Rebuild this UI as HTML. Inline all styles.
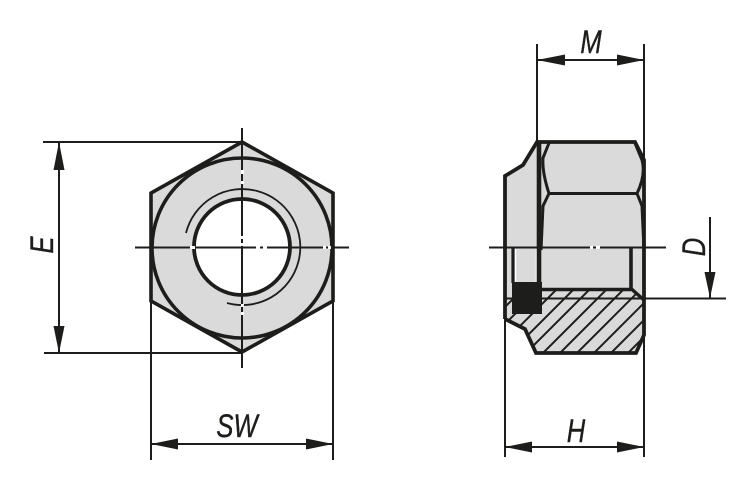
<!DOCTYPE html>
<html>
<head>
<meta charset="utf-8">
<style>
html,body{margin:0;padding:0;background:#fff;width:750px;height:486px;overflow:hidden}
svg{display:block}
text{font-family:"Liberation Sans",sans-serif;font-style:italic;fill:#1d1d1b;stroke:#1d1d1b;stroke-width:.4}
</style>
</head>
<body>
<svg width="750" height="486" viewBox="0 0 750 486" xmlns="http://www.w3.org/2000/svg">
<defs>
<clipPath id="hc"><polygon points="505,289 632,289 645,300 645,335 636,353 536,353 525,329 505,319"/></clipPath>
</defs>
<rect width="750" height="486" fill="#fff"/>

<!-- LEFT VIEW -->
<polygon points="242,142 333,193 333,301 242,352 151,301 151,193" fill="#dadada" stroke="#1d1d1b" stroke-width="3.6" stroke-linejoin="miter"/>
<circle cx="242" cy="248" r="90" fill="#dadada" stroke="#1d1d1b" stroke-width="3.6"/>
<circle cx="242" cy="247" r="48" fill="#fff" stroke="#1d1d1b" stroke-width="3.8"/>
<path d="M186,233 A58,58 0 1 1 227,303" fill="none" stroke="#1d1d1b" stroke-width="1.8"/>

<!-- centre lines left -->
<g stroke="#1d1d1b" stroke-width="2" fill="none">
<path d="M135,247.5H349"/>
<path d="M242,128V368"/>
</g>
<g fill="#fff">
<rect x="190" y="246" width="5" height="3"/>
<rect x="256" y="246" width="4" height="3"/>
<rect x="263" y="246" width="4" height="3"/>
<rect x="323" y="246" width="3" height="3"/>
<rect x="328" y="246" width="3" height="3"/>
<rect x="241" y="170" width="3" height="4"/>
<rect x="241" y="181" width="3" height="3"/>
<rect x="241" y="236" width="3" height="3"/>
<rect x="241" y="243" width="3" height="3"/>
<rect x="241" y="304" width="3" height="3"/>
<rect x="241" y="312" width="3" height="3"/>
</g>

<!-- dimensions -->
<g stroke="#1d1d1b" stroke-width="2" fill="none">
<path d="M43,142H242"/>
<path d="M44,353H242"/>
<path d="M59,142V353"/>
<path d="M151,301V460"/>
<path d="M333,301V460"/>
<path d="M151,444H333"/>
<path d="M537,44V142"/>
<path d="M644,44V160"/>
<path d="M537,60H644"/>
<path d="M505,319V457"/>
<path d="M644,335V457"/>
<path d="M505,447H644"/>
<path d="M710,217V298"/>
<path d="M644,298.5H726"/>
</g>
<g fill="#1d1d1b">
<polygon points="59,142 64.500,170 53.500,170"/>
<polygon points="59,353 64.500,326 53.500,326"/>
<polygon points="151,444 178,438.500 178,449.500"/>
<polygon points="333,444 306,438.500 306,449.500"/>
<polygon points="537,60 565,54.500 565,65.500"/>
<polygon points="644,60 617,54.500 617,65.500"/>
<polygon points="505,447 532,441.500 532,452.500"/>
<polygon points="644,447 617,441.500 617,452.500"/>
<polygon points="710,298 704.500,272 715.500,272"/>
</g>

<!-- RIGHT VIEW -->
<polygon points="505,176 523,165 537,142 635,142 644,160 645,300 645,335 636,353 536,353 525,329 505,319" fill="#dadada"/>
<g clip-path="url(#hc)" stroke="#1d1d1b" stroke-width="2" fill="none">
<path d="M530,282L480,332"/>
<path d="M547,282L497,332"/>
<path d="M564,282L484,362"/>
<path d="M581,282L501,362"/>
<path d="M597,282L517,362"/>
<path d="M614,282L534,362"/>
<path d="M631,282L551,362"/>
<path d="M648,282L568,362"/>
<path d="M665,282L585,362"/>
<path d="M682,282L602,362"/>
<path d="M699,282L619,362"/>
</g>
<path d="M515.500,249V282M536.500,249V282" stroke="#fff" stroke-width="1.500" fill="none"/>
<g fill="none" stroke="#1d1d1b" stroke-linejoin="miter">
<path d="M505,319V176L523,165L537,142H635L644,160V335L636,353H536L525,329L505,319" stroke-width="3.8"/>
<path d="M539,142V282" stroke-width="4.600"/>
<path d="M549,143L543,158Q542,172 549,193.500H637Q646,175 642,160L635,143" stroke-width="3"/>
<path d="M549,193.500L543,206L541,250" stroke-width="3"/>
<path d="M637,193.500L642,206L644,250" stroke-width="3"/>
<path d="M513,247V283" stroke-width="3.200"/>
<path d="M631,247V289" stroke-width="3.600"/>
<path d="M541,289.500H632L644,300" stroke-width="3.400"/>
</g>
<path d="M505,298.500H645" stroke="#1d1d1b" stroke-width="2"/>
<rect x="512" y="282" width="30" height="32" fill="#1d1d1b"/>
<path d="M489,247.500H666" stroke="#1d1d1b" stroke-width="2"/>
<g fill="#fff">
<rect x="590" y="246" width="3" height="3"/>
<rect x="596" y="246" width="4" height="3"/>
</g>

<!-- LABELS -->
<text transform="translate(237,437) scale(.8,1)" font-size="32" text-anchor="middle">SW</text>
<text transform="translate(591,53) scale(.8,1)" font-size="32" text-anchor="middle">M</text>
<text transform="translate(576,442) scale(.8,1)" font-size="32" text-anchor="middle">H</text>
<text transform="translate(53,245) rotate(-90) scale(.8,1)" font-size="32" text-anchor="middle">E</text>
<text transform="translate(705,247) rotate(-90) scale(.8,1)" font-size="32" text-anchor="middle">D</text>
</svg>
</body>
</html>
